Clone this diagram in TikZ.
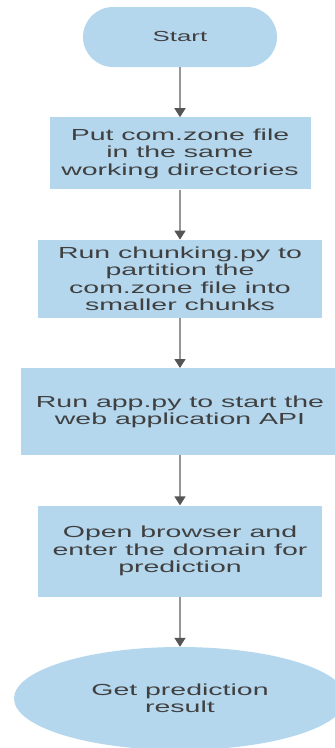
\documentclass[tikz,border=0pt]{standalone}
\usepackage{fontspec}
\setmainfont[FakeStretch=1.78]{Liberation Sans}
\usepackage{xcolor}
\usepackage{tikz}
\usetikzlibrary{
    arrows.meta,
    positioning,
    shapes.geometric
}

\definecolor{boxblue}{RGB}{180,215,238}
\definecolor{textgray}{RGB}{64,64,64}
\definecolor{linegray}{RGB}{150,150,150}
\definecolor{headgray}{RGB}{85,85,85}

\begin{document}
\begin{tikzpicture}[
    node distance=50pt,
    every node/.style={
        fill=boxblue,
        text=textgray,
        align=center,
        inner sep=0pt,
        font=\fontsize{16pt}{17.5pt}\selectfont
    },
    terminal/.style={
        rectangle,
        rounded corners=30pt,
        minimum width=194pt,
        minimum height=60pt,
        font=\fontsize{14.5pt}{17.5pt}\selectfont
    },
    process/.style={
        rectangle,
        minimum height=#1
    },
    flowarrow/.style={
        draw=linegray,
        line width=1.6pt,
        -{Triangle[width=11pt,length=9pt,fill=headgray,color=headgray]}
    }
]

\useasboundingbox (0,0) rectangle (335pt,-748pt);

\node[terminal] (start) at (180pt,-37pt) {Start};
\node[process=72pt, minimum width=261pt, below=of start] (putfile)
    {Put com.zone file\\in the same\\working directories};
\node[process=78pt, minimum width=284pt, below=of putfile] (chunking)
    {Run chunking.py to\\partition the\\com.zone file into\\smaller chunks};
\node[process=87pt, minimum width=318pt, below=of chunking] (runapp)
    {Run app.py to start the\\web application API};
\node[process=91pt, minimum width=284pt, below=of runapp] (browser)
    {Open browser and\\enter the domain for\\prediction};
\node[ellipse, minimum width=332pt, minimum height=103pt, below=of browser] (result)
    {Get prediction\\result};

\draw[flowarrow] (start) -- (putfile);
\draw[flowarrow] (putfile) -- (chunking);
\draw[flowarrow] (chunking) -- (runapp);
\draw[flowarrow] (runapp) -- (browser);
\draw[flowarrow] (browser) -- (result);

\end{tikzpicture}
\end{document}
